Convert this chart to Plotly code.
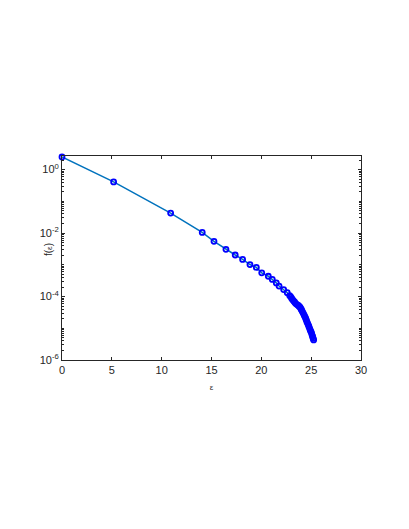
import plotly.graph_objects as go

# energy values and distribution values
eps = [0.0, 5.18, 10.9, 14.07, 15.25, 16.45, 17.38, 18.12, 18.86, 19.5, 20.04,
       20.7, 21.1, 21.5, 21.78, 22.24, 22.6, 22.84,
       22.95, 23.05, 23.15, 23.25, 23.35, 23.45, 23.58, 23.71, 23.8, 23.9,
       23.98, 24.05, 24.13, 24.21, 24.3, 24.38, 24.45, 24.51, 24.58, 24.65,
       24.72, 24.78, 24.85, 24.91, 24.98, 25.05, 25.1, 25.15, 25.2, 25.25]
f_eps = [2.5, 0.41, 0.0427, 0.0105, 0.0055, 0.00309, 0.00204, 0.00148, 0.00102,
         8.3e-4, 5.6e-4, 4.37e-4, 3.47e-4, 2.69e-4, 2.14e-4, 1.66e-4, 1.32e-4, 1.07e-4,
         9.8e-5, 8.7e-5, 7.9e-5, 7.2e-5, 6.6e-5, 6.0e-5, 5.6e-5, 5.25e-5, 4.9e-5, 4.57e-5,
         4.07e-5, 3.72e-5, 3.31e-5, 2.95e-5, 2.57e-5, 2.29e-5, 2.04e-5, 1.82e-5, 1.58e-5,
         1.41e-5, 1.26e-5, 1.12e-5, 9.8e-6, 8.7e-6, 7.8e-6, 6.9e-6, 6.0e-6, 5.4e-6,
         4.8e-6, 4.3e-6]

x_ticks = [0, 5, 10, 15, 20, 25, 30]
y_ticks = [1e-6, 1e-4, 1e-2, 1e0]
y_ticktext = ["10<sup>-6</sup>", "10<sup>-4</sup>", "10<sup>-2</sup>", "10<sup>0</sup>"]

# minor ticks on log axis (every 1..9 x 10^n)
minor_vals = [k * 10.0 ** n for n in range(-6, 1) for k in range(1, 10)
              if not (k == 1 and n % 2 == 0)]

axis_col = "#262626"
font = dict(family="Liberation Sans, Arial, sans-serif", size=11, color=axis_col)

fig = go.Figure()
fig.add_trace(go.Scatter(x=eps, y=f_eps, mode="lines", cliponaxis=False,
                         line=dict(color="#0072BD", width=1.5), showlegend=False))
fig.add_trace(go.Scatter(x=eps, y=f_eps, mode="markers", cliponaxis=False,
                         marker=dict(symbol="circle-open", size=5, color="#0000FF",
                                     line=dict(width=1.8, color="#0000FF")),
                         showlegend=False))

# y label sits close to the tick labels, as in the reference
fig.add_annotation(text="f(<span style='font-size:8px'>ε</span>)", textangle=-90,
                   xref="paper", yref="paper", x=-0.072, y=0.544,
                   showarrow=False, font=dict(size=10, color=axis_col))

# the page body adds 8px around the plot div
fig.update_layout(
    width=401, height=521,
    margin=dict(l=54, r=48, t=148, b=169),
    paper_bgcolor="white", plot_bgcolor="white",
    font=font,
    xaxis=dict(range=[0, 30], tickvals=x_ticks, ticks="inside", ticklen=3,
               tickcolor=axis_col, showline=True, linecolor=axis_col, linewidth=1,
               mirror="ticks", showgrid=False, zeroline=False, automargin=False,
               title=dict(text="ε", font=dict(size=8), standoff=9)),
    yaxis=dict(type="log", range=[-6, 0.43], tickvals=y_ticks, ticktext=y_ticktext,
               ticks="inside", ticklen=3, tickcolor=axis_col, showline=True,
               linecolor=axis_col, linewidth=1, mirror="ticks", showgrid=False,
               zeroline=False, automargin=False,
               minor=dict(tickvals=minor_vals, ticks="inside", ticklen=2,
                          tickcolor=axis_col, showgrid=False)),
)

fig.write_html("out.html")
